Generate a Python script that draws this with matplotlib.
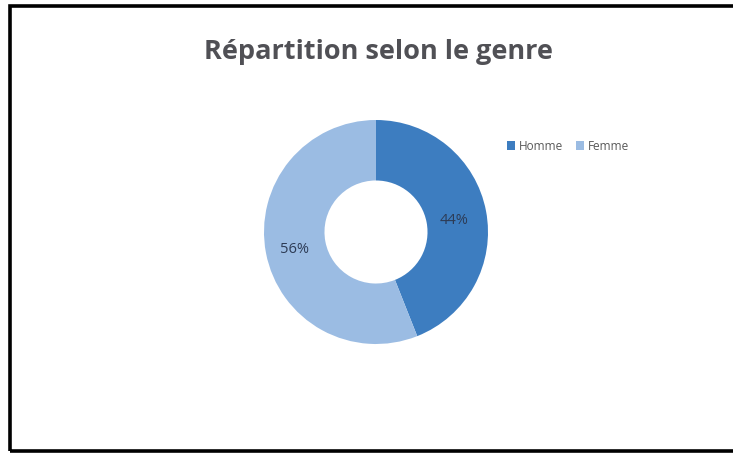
import matplotlib.pyplot as plt
from matplotlib.patches import Rectangle

# data
labels = ['Homme', 'Femme']
values = [44, 56]
colors = ['#3d7dc0', '#9bbce3']
title = 'Répartition selon le genre'

W, H = 733, 457
fig = plt.figure(figsize=(W / 100, H / 100), dpi=100)
fig.patch.set_facecolor('white')

# black frame around the chart (no right side visible)
fig.patches.append(Rectangle((10 / W, (H - 451) / H), 740 / W, (451 - 6) / H,
                             transform=fig.transFigure, fill=False,
                             edgecolor='black', linewidth=2.6))

# donut: centre (376, 232), radius ~112 px
cx, cy, r = 376, 232, 112
ax = fig.add_axes([(cx - r) / W, (H - cy - r) / H, 2 * r / W, 2 * r / H])
wedges, texts = ax.pie(values, colors=colors, startangle=90, counterclock=False,
                       radius=1.0, wedgeprops=dict(width=0.54, edgecolor='none'))
ax.set_xlim(-1, 1)
ax.set_ylim(-1, 1)
ax.set_aspect('equal')
ax.axis('off')

# percentage labels inside the ring
label_pos = [(0.70, 0.10), (-0.73, -0.16)]
for v, (x, y) in zip(values, label_pos):
    ax.text(x, y, f'{v}%', ha='center', va='center', fontsize=10.5,
            color='#2d3b55', family='Open Sans')

fig.text(378 / W, 1 - 52 / H, title, ha='center', va='center',
         fontsize=19.5, fontweight='bold', color='#505055', family='Open Sans')

leg = fig.legend(wedges, labels, loc='center left',
                 bbox_to_anchor=(496 / W, 1 - 146 / H), ncol=2, frameon=False,
                 handlelength=0.7, handleheight=0.7, handletextpad=0.3,
                 columnspacing=1.1, prop={'family': 'Open Sans', 'size': 8.5})
for t in leg.get_texts():
    t.set_color('#595959')

fig.savefig('out.png', dpi=100, facecolor='white')
